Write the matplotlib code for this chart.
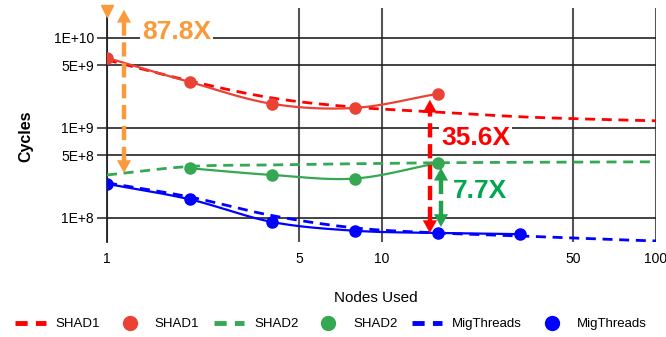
import numpy as np
import matplotlib
matplotlib.use("Agg")
import matplotlib.pyplot as plt
from matplotlib.lines import Line2D
from matplotlib.ticker import FixedLocator, NullLocator

plt.rcParams["font.family"] = ["Liberation Sans", "DejaVu Sans"]

# measured points (nodes -> cycles)
shad1_nodes = [1, 2, 4, 8, 16]
shad1_cycles = [6.0e9, 3.24e9, 1.85e9, 1.67e9, 2.39e9]
shad2_nodes = [2, 4, 8, 16]
shad2_cycles = [3.56e8, 3.0e8, 2.74e8, 4.06e8]
mig_nodes = [1, 2, 4, 8, 16, 32]
mig_cycles = [2.39e8, 1.61e8, 9.0e7, 7.2e7, 6.8e7, 6.6e7]

# projected trend curves
trend_nodes = [1, 2, 4, 8, 16, 32, 64, 100]
shad1_trend = [5.7e9, 3.33e9, 2.15e9, 1.70e9, 1.5e9, 1.33e9, 1.24e9, 1.2e9]
shad2_trend = [3.0e8, 3.73e8, 3.88e8, 4.0e8, 4.1e8, 4.15e8, 4.18e8, 4.2e8]
mig_trend = [2.45e8, 1.71e8, 1.06e8, 7.74e7, 6.81e7, 6.3e7, 5.8e7, 5.55e7]

# speedup annotations: (x, top, bottom, label, label_x, label_y)
single_node_peak = 2.0e10
speedups = [
    (1.153, 2.05e10, 3.16e8, "87.8X", 1.34, 1.15e10),
    (15.0, 2.05e9, 6.8e7, "35.6X", 16.47, 7.8e8),
    (16.47, 3.6e8, 7.94e7, "7.7X", 18.2, 2.0e8),
]

RED, RED_DOT = "#ff0000", "#ea4335"
GREEN = "#34a853"
BLUE = "#0000ff"
ORANGE = "#f99a3c"
arrow_colors = [ORANGE, "#ff0000", "#22a24c"]
label_colors = [ORANGE, "#ff0000", "#00a651"]


def smooth(xs, ys, n=30):
    # Catmull-Rom through the points in log-log space
    lx, ly = np.log10(xs), np.log10(ys)
    px = np.concatenate([[2 * lx[0] - lx[1]], lx, [2 * lx[-1] - lx[-2]]])
    py = np.concatenate([[2 * ly[0] - ly[1]], ly, [2 * ly[-1] - ly[-2]]])
    t = np.linspace(0, 1, n)
    ox, oy = [], []
    for i in range(len(lx) - 1):
        for p, out in ((px, ox), (py, oy)):
            p0, p1, p2, p3 = p[i], p[i + 1], p[i + 2], p[i + 3]
            out.extend(0.5 * (2 * p1 + (-p0 + p2) * t
                              + (2 * p0 - 5 * p1 + 4 * p2 - p3) * t ** 2
                              + (-p0 + 3 * p1 - 3 * p2 + p3) * t ** 3))
    return 10 ** np.array(ox), 10 ** np.array(oy)


fig = plt.figure(figsize=(6.66, 3.37), dpi=100)
ax = fig.add_axes([0.1607, 0.2819, 0.8243, 0.6944])
ax.set_xscale("log")
ax.set_yscale("log")
ax.set_xlim(1, 100)
ax.set_ylim(5.4e7, 2.15e10)

ax.xaxis.set_major_locator(FixedLocator([1, 5, 10, 50, 100]))
ax.xaxis.set_minor_locator(NullLocator())
ax.set_xticklabels(["1", "5", "10", "50", "100"])
ax.yaxis.set_major_locator(FixedLocator([1e8, 5e8, 1e9, 5e9, 1e10]))
ax.yaxis.set_minor_locator(NullLocator())
ax.set_yticklabels(["1E+8", "5E+8", "1E+9", "5E+9", "1E+10"])
ax.tick_params(axis="x", length=0, pad=7, labelsize=10)
ax.tick_params(axis="y", length=7.5, width=1.2, color="#333333", pad=2, labelsize=10)
ax.grid(axis="y", color="#222222", lw=1.2)
ax.grid(axis="x", color="#555555", lw=1.5)
for side in ("top", "right", "bottom"):
    ax.spines[side].set_visible(False)
ax.spines["left"].set_color("#222222")
ax.spines["left"].set_linewidth(1.3)

dash = (0, (3.6, 2.4))
for nodes, vals, color in ((trend_nodes, shad1_trend, RED),
                           (trend_nodes, shad2_trend, GREEN),
                           (trend_nodes, mig_trend, BLUE)):
    sx, sy = smooth(nodes, vals)
    ax.plot(sx, sy, color=color, lw=2, ls=dash, zorder=3)

for nodes, vals, color in ((shad1_nodes, shad1_cycles, RED_DOT),
                           (shad2_nodes, shad2_cycles, GREEN),
                           (mig_nodes, mig_cycles, BLUE)):
    sx, sy = smooth(nodes, vals)
    ax.plot(sx, sy, color=color, lw=1.6, zorder=4)
    ax.plot(nodes, vals, "o", color=color, ms=8, zorder=5)

ax.plot([1], [single_node_peak], "v", color=ORANGE, ms=8, clip_on=False, zorder=6)

# double-headed dashed speedup arrows
head_len = 9.0
for (x, top, bot, text, tx, ty), ac, lc in zip(speedups, arrow_colors, label_colors):
    to_disp = ax.transData
    (dx, dtop), (_, dbot) = to_disp.transform([(x, top), (x, bot)])
    hl = head_len * fig.dpi / 72
    inv = to_disp.inverted()
    y_a = inv.transform((dx, dtop - hl + 1))[1]
    y_b = inv.transform((dx, dbot + hl - 1))[1]
    ax.plot([x, x], [y_b, y_a], color=ac, lw=3.2, ls=(0, (3.2, 1.5)),
            solid_capstyle="butt", zorder=7)
    for tip, off in ((top, -head_len - 0.5), (bot, head_len + 0.5)):
        ax.annotate("", xy=(x, tip), xytext=(0, off), textcoords="offset points",
                    arrowprops=dict(arrowstyle="-|>,head_length=9,head_width=5",
                                    mutation_scale=1, color=ac, lw=0.1,
                                    shrinkA=0, shrinkB=0),
                    annotation_clip=False, zorder=8)
    ax.text(tx, ty, text, color=lc, fontsize=19, fontweight="bold",
            ha="left", va="center", zorder=9,
            bbox=dict(facecolor="white", edgecolor="none", pad=1.5))

ax.set_ylabel("Cycles", fontsize=11.5, fontweight="bold")
ax.yaxis.set_label_coords(-0.135, 0.45)
ax.set_xlabel("Nodes Used", fontsize=11)
ax.xaxis.set_label_coords(0.49, -0.21)

handles = [
    Line2D([], [], color=RED, lw=3.5, ls=(0, (2.5, 1.7))),
    Line2D([], [], ls="none", marker="o", ms=10, color=RED_DOT),
    Line2D([], [], color=GREEN, lw=3.5, ls=(0, (2.5, 1.7))),
    Line2D([], [], ls="none", marker="o", ms=10, color=GREEN),
    Line2D([], [], color=BLUE, lw=3.5, ls=(0, (2.5, 1.7))),
    Line2D([], [], ls="none", marker="o", ms=10, color=BLUE),
]
labels = ["SHAD1", "SHAD1", "SHAD2", "SHAD2", "MigThreads", "MigThreads"]
fig.legend(handles, labels, loc="center", bbox_to_anchor=(0.497, 1 - 324 / 337),
           ncol=6, frameon=False, fontsize=9.5, handlelength=2.3,
           handletextpad=0.75, columnspacing=1.1)

fig.savefig("out.png", dpi=100)
